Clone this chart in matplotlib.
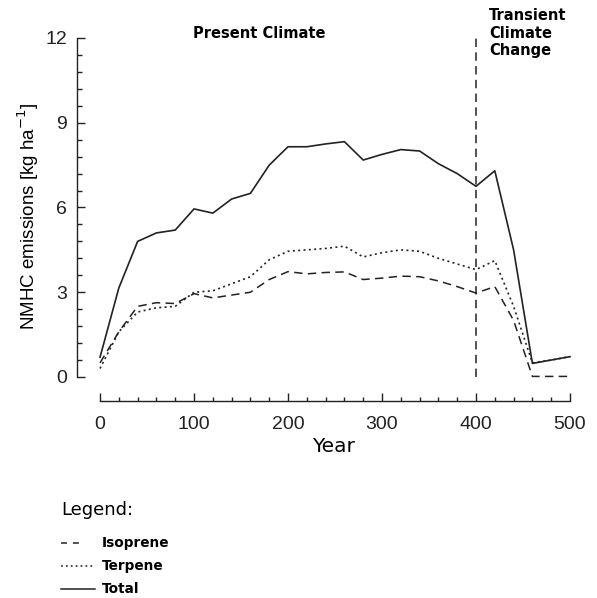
import matplotlib
matplotlib.use("Agg")
import matplotlib.pyplot as plt
from matplotlib.lines import Line2D
from matplotlib.ticker import FixedLocator
import numpy as np

years = [0, 20, 40, 60, 80, 100, 120, 140, 160, 180, 200, 220, 240,
         260, 280, 300, 320, 340, 360, 380, 400, 420, 440, 460, 480, 500]
total = [0.7, 3.15, 4.8, 5.1, 5.2, 5.95, 5.8, 6.3, 6.5, 7.5, 8.15, 8.15, 8.25,
         8.33, 7.68, 7.88, 8.05, 8.0, 7.55, 7.2, 6.75, 7.3, 4.5, 0.48, 0.6, 0.72]
terpene = [0.3, 1.6, 2.3, 2.45, 2.5, 3.0, 3.05, 3.3, 3.55, 4.15, 4.45, 4.5, 4.55,
           4.63, 4.25, 4.4, 4.5, 4.45, 4.2, 4.0, 3.8, 4.12, 2.5, 0.5, 0.6, 0.72]
isoprene = [0.5, 1.6, 2.5, 2.63, 2.6, 2.95, 2.8, 2.9, 3.0, 3.45, 3.73, 3.65, 3.7,
            3.72, 3.45, 3.5, 3.57, 3.55, 3.4, 3.2, 2.97, 3.2, 2.0, 0.02, 0.02, 0.02]
change_year = 400

x_major = [0, 100, 200, 300, 400, 500]
y_major = [0, 3, 6, 9, 12]


def main():
    plt.rcParams["font.family"] = ["Liberation Sans", "DejaVu Sans"]
    W, H = 597, 598
    fig = plt.figure(figsize=(W / 100, H / 100), dpi=100)
    # axes box in pixel terms: spine x=77, year 500 at x=570, y=12 at 38, axis line at 401
    ax = fig.add_axes([77 / W, (H - 401) / H, (570 - 77) / W, (401 - 38) / H])

    ink = "#222222"
    dash = (0, (5.5, 3.5))
    dot = (0, (1.2, 2.0))
    ax.plot(years, isoprene, color=ink, lw=1.1, linestyle=dash, clip_on=False)
    ax.plot(years, terpene, color=ink, lw=1.2, linestyle=dot, clip_on=False)
    ax.plot(years, total, color=ink, lw=1.2, clip_on=False)
    ax.vlines(change_year, 0, 12, colors=ink, lw=1.1, linestyles=[dash])

    ax.set_xlim(-24.5, 500)
    ax.set_ylim(-0.85, 12)
    ax.spines["top"].set_visible(False)
    ax.spines["right"].set_visible(False)
    ax.spines["left"].set_bounds(0, 12)
    ax.spines["bottom"].set_bounds(0, 500)
    for sp in ("left", "bottom"):
        ax.spines[sp].set_linewidth(1.0)
        ax.spines[sp].set_color(ink)

    ax.xaxis.set_major_locator(FixedLocator(x_major))
    ax.xaxis.set_minor_locator(FixedLocator(np.arange(0, 501, 20)))
    ax.yaxis.set_major_locator(FixedLocator(y_major))
    ax.yaxis.set_minor_locator(FixedLocator(np.linspace(0, 12, 21)))
    ax.tick_params(which="both", direction="in", colors=ink, width=1.0,
                   labelsize=14)
    ax.tick_params(axis="x", which="major", length=5.5, pad=11)
    ax.tick_params(axis="x", which="minor", length=2.7)
    ax.tick_params(axis="y", which="major", length=5.4, pad=7)
    ax.tick_params(axis="y", which="minor", length=3.4)

    rounded = ["DejaVu Sans"]
    fig.text(334 / W, 1 - 447 / H, "Year", ha="center", va="center",
             fontsize=14.5, family=rounded)
    fig.text(28 / W, 1 - 216 / H, "NMHC emissions [kg ha$^{-1}$]", rotation=90,
             ha="center", va="center", fontsize=13.5)

    fig.text(193 / W, 1 - 33 / H, "Present Climate", ha="left", va="center",
             fontsize=10.5, fontweight="bold", family=rounded)
    fig.text(489 / W, 1 - 33 / H, "Transient\nClimate\nChange", ha="left",
             va="center", fontsize=10.5, fontweight="bold", family=rounded,
             linespacing=1.2)

    # legend block below the axes
    fig.text(61 / W, 1 - 510 / H, "Legend:", ha="left", va="center",
             fontsize=13, family=rounded)
    entries = [("Isoprene", (0, (3.9, 3.9)), 79),
               ("Terpene", dot, 95),
               ("Total", "-", 95)]
    for i, (name, ls, x_end) in enumerate(entries):
        y = 1 - (543 + 23 * i) / H
        fig.add_artist(Line2D([61 / W, x_end / W], [y, y], transform=fig.transFigure,
                              color=ink, lw=1.1, linestyle=ls))
        fig.text(102 / W, y, name, ha="left", va="center", fontsize=9.8,
                 fontweight="bold", family=rounded)

    fig.savefig("out.png", dpi=100)


if __name__ == "__main__":
    main()
